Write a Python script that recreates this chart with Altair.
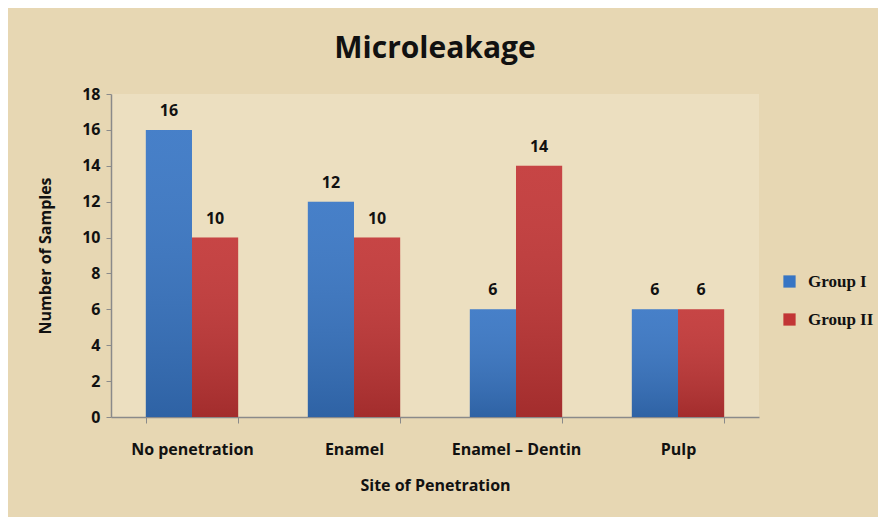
import altair as alt
import pandas as pd

categories = ["No penetration", "Enamel", "Enamel \u2013 Dentin", "Pulp"]
groups = ["Group I", "Group II"]
group1 = [16, 12, 6, 6]
group2 = [10, 10, 14, 6]
y_ticks = [0, 2, 4, 6, 8, 10, 12, 14, 16, 18]

rows = []
for c, a, b in zip(categories, group1, group2):
    rows.append({"site": c, "group": groups[0], "n": a})
    rows.append({"site": c, "group": groups[1], "n": b})
df = pd.DataFrame(rows)

F = "Open Sans"
x = alt.X("site:N", sort=categories, title="Site of Penetration",
          scale=alt.Scale(paddingInner=0.43, paddingOuter=0.215),
          axis=alt.Axis(labelAngle=0, tickBand="extent", labelPadding=18,
                        labelFontSize=16, labelFontWeight="bold", labelFont=F,
                        labelColor="#111", titleFontSize=16, titleFontWeight="bold",
                        titleFont=F, titleColor="#111", titlePadding=20,
                        domainColor="#8a8a8a", tickColor="#8a8a8a", domainWidth=1.5,
                        tickSize=6))
y = alt.Y("n:Q", title="Number of Samples",
          scale=alt.Scale(domain=[0, 18], nice=False),
          axis=alt.Axis(values=y_ticks, grid=False, labelFontSize=16,
                        labelFontWeight="bold", labelFont=F, labelColor="#111",
                        titleFontSize=16, titleFontWeight="bold", titleFont=F,
                        titleColor="#111", titlePadding=28, domainColor="#8a8a8a",
                        tickColor="#8a8a8a", domainWidth=1.5, tickSize=5, labelPadding=6))
xo = alt.XOffset("group:N", sort=groups)

bars = alt.Chart(df).mark_bar().encode(
    x=x, y=y, xOffset=xo,
    color=alt.Color("group:N", sort=groups,
                    scale=alt.Scale(domain=groups, range=["#3775c4", "#c23535"]),
                    legend=alt.Legend(title=None, orient="none", legendX=670, legendY=179,
                                      symbolType="square", symbolSize=150,
                                      symbolStrokeWidth=0, labelFont="Liberation Serif",
                                      labelFontSize=17, labelFontWeight="bold",
                                      labelColor="#111", rowPadding=20, labelOffset=10)),
)

shade = alt.Chart(df).mark_bar(
    fill=alt.Gradient(gradient="linear", x1=0, x2=0, y1=0, y2=1,
                      stops=[alt.GradientStop(offset=0, color="rgba(255,255,255,0.08)"),
                             alt.GradientStop(offset=1, color="rgba(0,0,0,0.16)")])
).encode(x=x, y=y, xOffset=xo)

labels = alt.Chart(df).mark_text(dy=-19, fontSize=16, fontWeight="bold",
                                 font=F, color="#111").encode(
    x=x, y=y, xOffset=xo, text="n:Q")

chart = alt.layer(bars, shade, labels).properties(
    width=648, height=323,
    title=alt.TitleParams("Microleakage", fontSize=30, fontWeight="bold",
                          font=F, color="#111", anchor="middle", offset=22),
    background="#e7d7b3",
    autosize=alt.AutoSizeParams(type="none"),
    padding={"left": 103, "top": 86, "right": 119, "bottom": 100},
).configure_view(fill="#ecdfc0", stroke=None)

chart.save("out.html", embed_options={"renderer": "svg", "actions": False})
